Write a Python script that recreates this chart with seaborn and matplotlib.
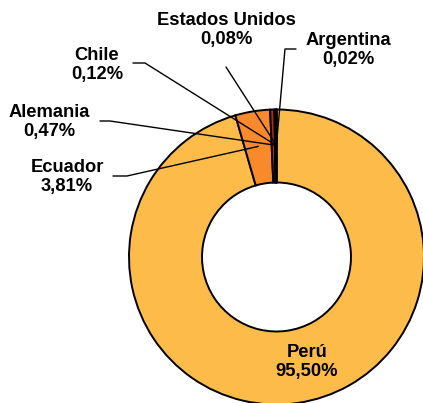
import numpy as np
import matplotlib
matplotlib.use("Agg")
import matplotlib.pyplot as plt
import seaborn as sns

countries = ["Perú", "Ecuador", "Alemania", "Chile", "Estados Unidos", "Argentina"]
shares = [95.50, 3.81, 0.47, 0.12, 0.08, 0.02]
labels_pct = ["95,50%", "3,81%", "0,47%", "0,12%", "0,08%", "0,02%"]
colors = ["#FDBB4A", "#F98A2C", "#A8300C", "#6E2200", "#3A1400", "#000000"]

sns.set_style("white")
plt.rcParams["font.family"] = ["Liberation Sans", "DejaVu Sans"]

W, H = 423, 403
CX, CY, R = 276.5, 257.0, 147.5


def p2d(px, py):
    return (px - CX) / R, (CY - py) / R


fig = plt.figure(figsize=(W / 100, H / 100), dpi=100)
ax = fig.add_axes([0, 0, 1, 1])
wedges, _ = ax.pie(shares, colors=colors, startangle=90, counterclock=False,
                   radius=1.0,
                   wedgeprops=dict(width=0.495, edgecolor="black", linewidth=1.4))
ax.set_xlim(p2d(0, 0)[0], p2d(W, 0)[0])
ax.set_ylim(p2d(0, H)[1], p2d(0, 0)[1])
ax.set_aspect("auto")
ax.axis("off")

# label block centers (pixels) and leader-line start points (pixels)
label_pos = {
    "Perú": (307, 362),
    "Ecuador": (67, 177),
    "Alemania": (49, 122),
    "Chile": (97, 65),
    "Estados Unidos": (226, 30),
    "Argentina": (348, 50),
}
leader_start = {
    "Ecuador": [(113, 176), (127, 176)],
    "Alemania": [(100, 121), (110, 121)],
    "Chile": [(133, 63), (145, 63)],
    "Estados Unidos": [(226, 67)],
    "Argentina": [(296, 49), (285, 49)],
}

r_anchor = 0.76
for w, name, pct in zip(wedges, countries, labels_pct):
    x, y = p2d(*label_pos[name])
    ax.text(x, y, f"{name}\n{pct}", ha="center", va="center", color="black",
            fontsize=13.2, fontweight="bold", linespacing=1.08)
    if name in leader_start:
        mid = np.deg2rad((w.theta1 + w.theta2) / 2)
        ax_, ay_ = r_anchor * np.cos(mid), r_anchor * np.sin(mid)
        pts = [p2d(*p) for p in leader_start[name]] + [(ax_, ay_)]
        xs, ys = zip(*pts)
        ax.plot(xs, ys, color="black", linewidth=1.0, zorder=5)

fig.savefig("out.png", dpi=100)
